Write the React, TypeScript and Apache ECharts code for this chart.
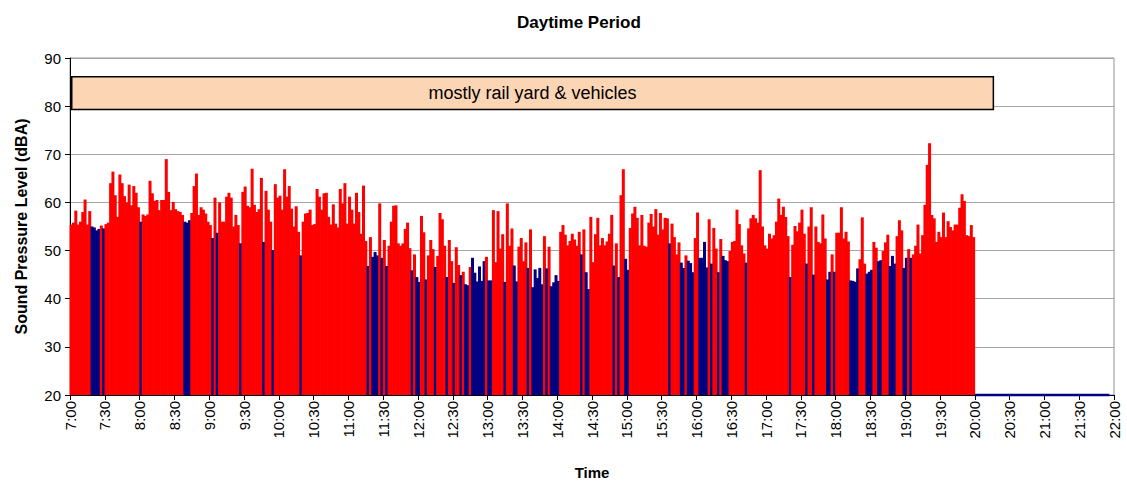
import React, { useEffect, useRef } from "react";
import * as echarts from "echarts";

// Time axis in minutes after midnight
const START_MIN = 420; // 7:00
const END_MIN = 1320; // 22:00
const STEP_MIN = 2; // each bar covers two minutes
const TICK_MIN = 30;

// Sound level per 2-minute interval, 7:00 - 20:00 (dBA)
const levels: number[] = [
  55.4, 55.8, 58.3, 55.4, 56, 58, 60.6, 55.4, 58.2, 55,
  54.8, 54.2, 54.5, 55.2, 54.6, 55.5, 55.8, 64, 66.4, 61.5,
  57, 65.8, 64, 61.3, 60, 63.7, 59.4, 63.4, 62, 59,
  56, 57.5, 57.2, 57.5, 64.5, 61.9, 60.3, 60.5, 58.4, 60.5,
  60.5, 69, 62.2, 58.4, 60.1, 58.6, 58.2, 58, 57.4, 56,
  55.8, 56.3, 57.8, 63.4, 66, 57.4, 59, 58.5, 57.7, 56,
  55.3, 52.6, 61, 53.7, 60, 56, 56, 61.2, 62, 61,
  55, 57.4, 55.3, 51.5, 62.2, 63.3, 59.3, 59, 67, 59.5,
  58, 58.6, 65.1, 51.8, 62.4, 58.5, 56, 50.1, 63.8, 61,
  61.4, 58.5, 66.9, 61.2, 63.4, 58.7, 55, 59.2, 53.9, 49,
  56, 57.7, 57.8, 58.5, 55.3, 55.5, 62.8, 61.2, 58.5, 61.9,
  62, 57, 55.4, 59.6, 55.6, 54.8, 62.8, 59.8, 64, 55.6,
  61.2, 58.5, 55.6, 62, 58, 53.5, 63.5, 52, 46.8, 52.8,
  48.7, 49.7, 49, 59.8, 48.5, 52.2, 46.8, 51, 56, 59.3,
  59.4, 51.5, 51, 51.5, 54.5, 55.8, 50.5, 45.9, 49.2, 44.5,
  43.5, 57.2, 53.8, 44, 49, 52.2, 50.3, 46.6, 48.9, 57.8,
  56.5, 51, 44.5, 52.2, 47.8, 43.3, 50.7, 47, 44.9, 45.6,
  43, 42.8, 46.6, 48.5, 45.4, 43.6, 46.7, 43.7, 47.8, 48.7,
  43.8, 43.8, 58.4, 47.6, 58.2, 50.4, 53.4, 43.5, 59.8, 51,
  54.6, 46.9, 43.6, 50.8, 52.6, 47.8, 51.7, 46.4, 54.4, 42.4,
  46.1, 44.3, 46.4, 43, 53, 46.3, 50.8, 42.6, 43.4, 44.9,
  43.7, 53.9, 55.3, 53.3, 51.1, 52, 53.5, 52.3, 51, 53.9,
  49.2, 54.4, 45.5, 42, 57, 47.6, 53.4, 56.8, 51.1, 52.6,
  51.1, 51.9, 53.5, 57.4, 46.9, 51.5, 44.5, 61.5, 66.9, 48.3,
  46, 54.7, 57.7, 59.1, 56.8, 51.1, 57.4, 51, 50.8, 55.8,
  57.6, 55, 58.6, 53.3, 57.8, 54.4, 56.8, 56.7, 51.5, 55.6,
  52.8, 49.2, 51.7, 47.5, 46.4, 49, 47.9, 47.4, 45.5, 52.6,
  57.9, 48.5, 48.5, 51.8, 46.5, 56.5, 47.3, 54.7, 50.4, 45.5,
  52.4, 48.9, 48, 47.8, 49.9, 51.8, 52, 58.5, 55.5, 51.1,
  49.4, 47.5, 54.6, 56.7, 57.4, 56.7, 55.8, 66.7, 55, 51.1,
  50.4, 53.5, 52.5, 53.2, 56, 60.8, 57.4, 59.1, 57, 53,
  44.5, 51.2, 55.1, 54, 55.8, 58.5, 53.5, 47.3, 55, 59,
  45, 55, 51.8, 51.5, 57.5, 52.5, 44, 45.6, 49.2, 45.6,
  53.7, 53.7, 59, 52.5, 53.9, 51.9, 43.8, 43.7, 43.5, 46.3,
  48.2, 56.9, 47.3, 45.2, 45.6, 46, 51.8, 50.6, 47.8, 48,
  49.9, 51.7, 53.3, 46.8, 48.9, 47.3, 53, 56.3, 54.2, 46.4,
  48.5, 50.3, 48.5, 49.2, 51, 55.4, 49.4, 53.2, 59.5, 67.8,
  72.3, 57.4, 56.7, 51.8, 53.9, 52.8, 57.9, 52.8, 56.1, 54.9,
  54.2, 55.4, 55.4, 58.9, 61.7, 60.3, 53.2, 53, 55.3, 52.8,
];

// Intervals classified as background (drawn in navy); all others are events (red)
const quietBars: number[] = [
  9, 10, 11, 12, 14, 30, 49, 50, 51, 61, 63, 73, 83, 87, 99, 128, 130, 131, 132,
  134, 136, 147, 149, 150, 153, 157, 162, 165, 168, 170, 171, 173, 174, 175, 176,
  177, 178, 180, 181, 187, 191, 192, 197, 199, 200, 201, 202, 203, 205, 207, 208,
  209, 210, 220, 222, 223, 234, 236, 239, 240, 258, 263, 264, 266, 267, 268, 271,
  272, 273, 274, 276, 279, 281, 282, 283, 291, 310, 317, 320, 326, 327, 329, 336,
  337, 338, 339, 343, 344, 345, 348, 349, 353, 354, 355, 359, 360, 362,
];

// No-measurement tail after 20:00
const tailTimes: number[] = [1200, 1316];
const tailLevel = 20;

// Annotation box
const noteText = "mostly rail yard & vehicles";
const noteTimes: number[] = [421.5, 1216];
const noteLevels: number[] = [86.1, 79.3];

const RED = "#FF0000";
const NAVY = "#000080";
const FONT = "Arial, 'Liberation Sans', sans-serif";

const fmtTime = (v: number) => {
  const h = Math.floor(v / 60);
  const m = Math.round(v % 60);
  return `${h}:${m < 10 ? "0" + m : m}`;
};

export default function App() {
  const ref = useRef<HTMLDivElement>(null);
  useEffect(() => {
    const chart = echarts.init(ref.current!, null, { renderer: "svg" });
    const quiet = new Set(quietBars);
    const barData = levels.map((v, i) => ({
      value: [START_MIN + STEP_MIN * i + STEP_MIN / 2, v],
      itemStyle: { color: quiet.has(i) ? NAVY : RED },
    }));
    chart.setOption({
      animation: false,
      backgroundColor: "#ffffff",
      textStyle: { fontFamily: FONT },
      title: {
        text: "Daytime Period",
        left: 512,
        top: 9,
        textStyle: { fontFamily: FONT, fontSize: 17, fontWeight: "bold", color: "#000" },
      },
      grid: {
        left: 70,
        right: 13,
        top: 58,
        bottom: 91,
        show: true,
        borderColor: "#909090",
        borderWidth: 1,
        backgroundColor: "transparent",
      },
      xAxis: {
        type: "value",
        min: START_MIN,
        max: END_MIN,
        interval: TICK_MIN,
        name: "Time",
        nameLocation: "middle",
        nameGap: 70,
        nameTextStyle: { fontFamily: FONT, fontSize: 15, fontWeight: "bold", color: "#000" },
        axisLine: { show: true, onZero: false, lineStyle: { color: "#000", width: 1 } },
        axisTick: { show: true, length: 5, lineStyle: { color: "#000" } },
        axisLabel: {
          rotate: 90,
          fontFamily: FONT,
          fontSize: 15,
          color: "#000",
          margin: 6,
          formatter: (v: number) => fmtTime(v),
        },
        splitLine: { show: false },
      },
      yAxis: {
        type: "value",
        min: 20,
        max: 90,
        interval: 10,
        name: "Sound Pressure Level (dBA)",
        nameLocation: "middle",
        nameGap: 41,
        nameTextStyle: { fontFamily: FONT, fontSize: 16, fontWeight: "bold", color: "#000" },
        axisLine: { show: true, lineStyle: { color: "#000", width: 1 } },
        axisTick: { show: true, length: 5, lineStyle: { color: "#000" } },
        axisLabel: { fontFamily: FONT, fontSize: 15, color: "#000", margin: 9 },
        splitLine: { show: true, lineStyle: { color: "#A6A6A6", width: 1 } },
      },
      series: [
        {
          type: "bar",
          data: barData,
          barWidth: 3,
          z: 2,
          markArea: {
            silent: true,
            itemStyle: { color: "#FCD5B4", borderColor: "#000", borderWidth: 1.5 },
            label: {
              show: true,
              position: "inside",
              color: "#000",
              fontFamily: FONT,
              fontSize: 18,
            },
            data: [
              [
                { name: noteText, coord: [noteTimes[0], noteLevels[0]] },
                { coord: [noteTimes[1], noteLevels[1]] },
              ],
            ],
          },
        },
        {
          type: "line",
          data: tailTimes.map((t) => [t, tailLevel]),
          symbol: "none",
          clip: false,
          z: 3,
          lineStyle: { color: NAVY, width: 2.5 },
        },
      ],
    });
    return () => chart.dispose();
  }, []);
  return (
    <div
      ref={ref}
      style={{ position: "absolute", left: 0, top: 0, width: 1127, height: 486 }}
    />
  );
}
